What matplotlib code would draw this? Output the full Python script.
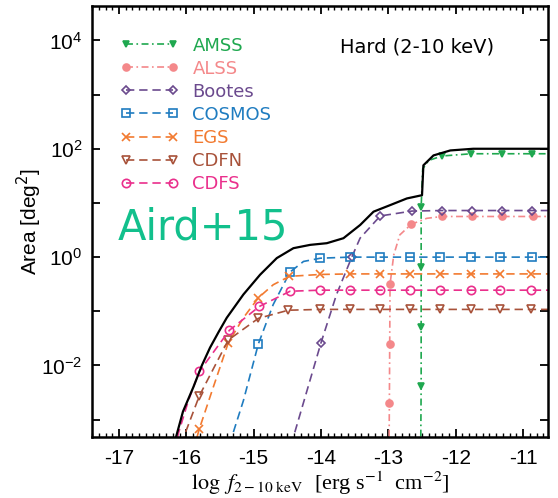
import numpy as np
import matplotlib
matplotlib.use('Agg')
import matplotlib.pyplot as plt
from matplotlib.ticker import MultipleLocator, FixedLocator, FuncFormatter, NullLocator

plt.rcParams['font.family'] = ['Liberation Sans', 'DejaVu Sans']
plt.rcParams['axes.unicode_minus'] = False
plt.rcParams['lines.scale_dashes'] = False

# log10(area / deg^2) against log10 flux
total_x = [-16.3, -16.153, -16.05, -15.896, -15.77, -15.648, -15.52, -15.40, -15.153, -14.905,
           -14.657, -14.41, -14.162, -13.914, -13.667, -13.419, -13.22, -12.973, -12.725,
           -12.50, -12.48, -12.33, -12.08, -11.74, -10.5]
total_logA = [-4.0, -3.32, -2.85, -2.40, -2.0, -1.67, -1.38, -1.12, -0.69, -0.325,
              -0.018, 0.165, 0.226, 0.257, 0.349, 0.593, 0.839, 0.96, 1.083,
              1.143, 1.694, 1.877, 1.969, 2.0, 2.0]

amss_x = [-12.52, -12.513, -12.513, -12.513, -12.513, -12.49, -12.40, -12.205, -11.77, -11.31, -10.87, -10.5]
amss_logA = [-3.6, -2.37, -1.29, -0.19, 0.93, 1.63, 1.785, 1.866, 1.908, 1.908, 1.908, 1.908]
amss_mark = [1, 2, 3, 4, 7, 8, 9, 10]

alss_x = [-12.99, -12.985, -12.98, -12.975, -12.92, -12.83, -12.66, -12.43, -12.205, -11.76, -11.31, -10.85, -10.5]
alss_logA = [-3.6, -2.70, -1.60, -0.50, 0.04, 0.41, 0.606, 0.716, 0.75, 0.75, 0.75, 0.75, 0.75]
alss_mark = [1, 2, 3, 6, 8, 9, 10, 11]

bootes_x = [-14.5, -14.41, -14.0, -13.77, -13.54, -13.42, -13.12, -12.65, -12.2, -11.76, -11.31, -10.86, -10.5]
bootes_logA = [-3.7, -3.32, -1.58, -0.69, 0.01, 0.35, 0.76, 0.85, 0.86, 0.86, 0.86, 0.86, 0.86]
bootes_mark = [2, 4, 6, 7, 8, 9, 10, 11]

cosmos_x = [-15.4, -15.325, -15.153, -14.93, -14.71, -14.46, -14.26, -14.01, -13.57, -13.12,
            -12.68, -12.23, -11.78, -11.34, -10.87, -10.5]
cosmos_logA = [-3.7, -3.32, -2.65, -1.60, -0.875, -0.275, -0.08, -0.02, 0.0, 0.0,
               0.0, 0.0, 0.0, 0.0, 0.0, 0.0]
cosmos_mark = [3, 5, 7, 8, 9, 10, 11, 12, 13, 14]

egs_x = [-15.95, -15.807, -15.6, -15.377, -15.153, -14.93, -14.71, -14.47, -14.01, -13.57,
         -13.12, -12.68, -12.23, -11.78, -11.34, -10.88, -10.5]
egs_logA = [-3.8, -3.17, -2.40, -1.58, -1.12, -0.75, -0.51, -0.355, -0.32, -0.31,
            -0.31, -0.31, -0.31, -0.31, -0.31, -0.31, -0.31]
egs_mark = [1, 3, 5, 7, 8, 9, 10, 11, 12, 13, 14, 15]

cdfn_x = [-16.1, -16.02, -15.807, -15.377, -14.93, -14.485, -14.01, -13.57, -13.12, -12.68,
          -12.23, -11.78, -11.34, -10.88, -10.5]
cdfn_logA = [-3.7, -3.26, -2.56, -1.53, -1.13, -0.98, -0.965, -0.965, -0.965, -0.965,
             -0.965, -0.965, -0.965, -0.965, -0.965]
cdfn_mark = [2, 3, 4, 5, 6, 7, 8, 9, 10, 11, 12, 13]

cdfs_x = [-16.2, -16.12, -15.97, -15.807, -15.36, -14.915, -14.46, -14.01, -13.57, -13.12,
          -12.68, -12.23, -11.78, -11.34, -10.88, -10.5]
cdfs_logA = [-3.8, -3.26, -2.65, -2.11, -1.35, -0.91, -0.63, -0.61, -0.61, -0.61,
             -0.61, -0.61, -0.61, -0.61, -0.61, -0.61]
cdfs_mark = [3, 4, 5, 6, 7, 8, 9, 10, 11, 12, 13, 14]

fig = plt.figure(figsize=(5.58, 4.98), dpi=100)
ax = fig.add_axes([0.165, 0.1225, 0.817, 0.866])

dash = (6, 3.5)
dashdot = (5, 2.5, 1.2, 2.5)

surveys = [
    ('AMSS', amss_x, amss_logA, amss_mark, '#1fa84f', 'v', True, dashdot, 5),
    ('ALSS', alss_x, alss_logA, alss_mark, '#f4888a', 'o', True, dashdot, 5),
    ('Bootes', bootes_x, bootes_logA, bootes_mark, '#6b4a8e', 'D', False, dash, 4.5),
    ('COSMOS', cosmos_x, cosmos_logA, cosmos_mark, '#1f7cc0', 's', False, dash, 6),
    ('EGS', egs_x, egs_logA, egs_mark, '#f27a30', 'x', False, dash, 6),
    ('CDFN', cdfn_x, cdfn_logA, cdfn_mark, '#a8523a', 'v', False, dash, 6),
    ('CDFS', cdfs_x, cdfs_logA, cdfs_mark, '#ea2f8c', 'o', False, dash, 6),
]

ax.plot(total_x, 10 ** np.array(total_logA), color='black', lw=1.6, zorder=3)

for name, xs, ly, mk, col, m, filled, ds, ms in surveys:
    ax.plot(xs, 10 ** np.array(ly), color=col, lw=1.2, dashes=ds,
            marker=m, markevery=mk, ms=ms, mew=1.2,
            mfc=col if filled else 'none', mec=col, label=name)

ax.set_yscale('log')
ax.set_xlim(-17.4, -10.63)
ax.set_ylim(10 ** -3.32, 10 ** 4.64)

ax.xaxis.set_major_locator(MultipleLocator(1))
ax.xaxis.set_minor_locator(MultipleLocator(0.1))
ax.yaxis.set_major_locator(FixedLocator([10.0 ** k for k in range(-3, 5)]))
ax.yaxis.set_minor_locator(NullLocator())


def ylab(v, pos):
    k = int(round(np.log10(v)))
    if k % 2:
        return ''
    return r'$\mathdefault{10^{%d}}$' % k


ax.yaxis.set_major_formatter(FuncFormatter(ylab))
ax.xaxis.set_major_formatter(FuncFormatter(lambda v, p: '%d' % v))

ax.tick_params(which='both', direction='in', top=True, right=True, labelsize=15)
ax.tick_params(which='major', length=6, width=1.3)
ax.tick_params(which='minor', length=3, width=1.0)
ax.tick_params(axis='x', pad=9)
ax.tick_params(axis='y', pad=7)
for s in ax.spines.values():
    s.set_linewidth(1.8)

ax.set_xlabel(r'$\log\ f_{2-10\ \mathrm{keV}}$  [erg s$^{-1}$  cm$^{-2}$]',
              fontsize=16, family='Liberation Serif', math_fontfamily='stix', labelpad=1)
ax.set_ylabel(r'Area [deg$^2$]', fontsize=15, labelpad=-2)

ax.text(0.544, 0.891, 'Hard (2-10 keV)', transform=ax.transAxes, fontsize=14,
        family='DejaVu Sans')
ax.text(0.057, 0.457, 'Aird+15', transform=ax.transAxes, fontsize=30,
        family='DejaVu Sans', color='#12c08c')

leg = ax.legend(loc='upper left', bbox_to_anchor=(0.026, 0.966), frameon=False,
                handlelength=3.2, handletextpad=0.8, labelspacing=0.28,
                numpoints=2, labelcolor='linecolor', prop={'family': 'DejaVu Sans', 'size': 13})

fig.savefig('out.png', dpi=100)
